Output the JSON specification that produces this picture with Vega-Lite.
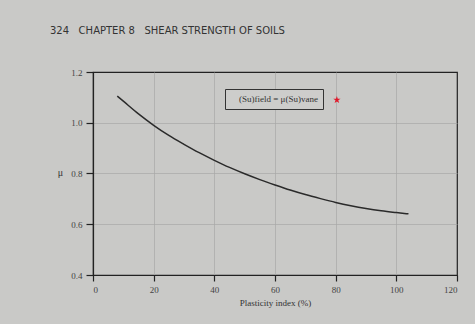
{
  "$schema": "https://vega.github.io/schema/vega-lite/v6.json",
  "autosize": {"type": "none"},
  "width": 364,
  "height": 203,
  "padding": {"left": 93, "top": 72, "right": 18, "bottom": 49},
  "background": "#c9c9c7",
  "title": {
    "text": "324\u00a0\u00a0\u00a0CHAPTER 8\u00a0\u00a0\u00a0SHEAR STRENGTH OF SOILS",
    "anchor": "start",
    "frame": "group",
    "dx": -43,
    "offset": 32,
    "font": "DejaVu Sans",
    "fontSize": 10,
    "fontWeight": "normal",
    "color": "#333333"
  },
  "config": {
    "view": {"stroke": "#222222", "strokeWidth": 1.2, "fill": "#c9c9c7"},
    "axis": {
      "domainColor": "#222222",
      "domainWidth": 1.2,
      "tickColor": "#222222",
      "tickWidth": 1.2,
      "tickSize": 6,
      "labelFont": "Liberation Serif",
      "labelFontSize": 9,
      "labelColor": "#444444",
      "titleFont": "Liberation Serif",
      "titleFontWeight": "normal",
      "titleColor": "#333333",
      "gridColor": "#a8a8a8",
      "gridWidth": 0.7
    }
  },
  "datasets": {
    "curve": [
      {"pi": 8, "mu": 1.105},
      {"pi": 10, "mu": 1.085},
      {"pi": 15, "mu": 1.035},
      {"pi": 20, "mu": 0.99},
      {"pi": 25, "mu": 0.95},
      {"pi": 30, "mu": 0.915},
      {"pi": 35, "mu": 0.882},
      {"pi": 40, "mu": 0.852},
      {"pi": 45, "mu": 0.824},
      {"pi": 50, "mu": 0.799},
      {"pi": 55, "mu": 0.776},
      {"pi": 60, "mu": 0.755},
      {"pi": 65, "mu": 0.735},
      {"pi": 70, "mu": 0.717},
      {"pi": 75, "mu": 0.701},
      {"pi": 80, "mu": 0.686},
      {"pi": 85, "mu": 0.673},
      {"pi": 90, "mu": 0.662},
      {"pi": 95, "mu": 0.653},
      {"pi": 100, "mu": 0.646},
      {"pi": 104, "mu": 0.641}
    ],
    "star": [{"pi": 80.4, "mu": 1.09}]
  },
  "layer": [
    {
      "data": {"name": "curve"},
      "mark": {"type": "line", "interpolate": "monotone", "color": "#2a2a2a", "strokeWidth": 1.5},
      "encoding": {
        "x": {
          "field": "pi",
          "type": "quantitative",
          "scale": {"domain": [0, 120], "nice": false},
          "axis": {
            "title": "Plasticity index (%)",
            "titleFontSize": 9,
            "titlePadding": 4,
            "labelPadding": 4,
            "values": [0, 10, 20, 30, 40, 50, 60, 70, 80, 90, 100, 110, 120],
            "labelExpr": "datum.value % 20 == 0 ? datum.label : ''",
            "gridOpacity": {"condition": {"test": "datum.value % 20 == 0 && datum.value > 0 && datum.value < 120", "value": 1}, "value": 0}
          }
        },
        "y": {
          "field": "mu",
          "type": "quantitative",
          "scale": {"domain": [0.4, 1.2], "nice": false, "zero": false},
          "axis": {
            "title": "μ",
            "titleAngle": 0,
            "titleX": -33,
            "titleY": 100,
            "titleAlign": "center",
            "titleBaseline": "middle",
            "titleFontSize": 10,
            "labelPadding": 4,
            "tickSize": 7,
            "values": [0.4, 0.5, 0.6, 0.7, 0.8, 0.9, 1.0, 1.1, 1.2],
            "labelExpr": "round(datum.value * 10) % 2 == 0 ? format(datum.value, '.1f') : ''",
            "gridOpacity": {"condition": {"test": "round(datum.value * 10) % 2 == 0 && datum.value > 0.45 && datum.value < 1.15", "value": 1}, "value": 0}
          }
        },
        "stroke": {
          "datum": "(Su)field = μ(Su)vane",
          "scale": {"range": ["#2a2a2a"]},
          "legend": {
            "title": null,
            "orient": "none",
            "legendX": 132,
            "legendY": 17,
            "symbolSize": 0,
            "symbolStrokeWidth": 0,
            "symbolOpacity": 0,
            "labelOffset": 0,
            "labelFont": "Liberation Serif",
            "labelFontSize": 9,
            "labelColor": "#333333",
            "strokeColor": "#333333",
            "padding": 5,
            "fillColor": "#cdcdcb"
          }
        }
      }
    },
    {
      "data": {"name": "star"},
      "mark": {
        "type": "point",
        "shape": "M0,-1L0.2245,-0.309L0.951,-0.309L0.363,0.118L0.588,0.809L0,0.382L-0.588,0.809L-0.363,0.118L-0.951,-0.309L-0.2245,-0.309Z",
        "filled": true,
        "color": "#e0182a",
        "size": 60,
        "opacity": 1
      },
      "encoding": {
        "x": {"field": "pi", "type": "quantitative"},
        "y": {"field": "mu", "type": "quantitative"}
      }
    }
  ]
}
